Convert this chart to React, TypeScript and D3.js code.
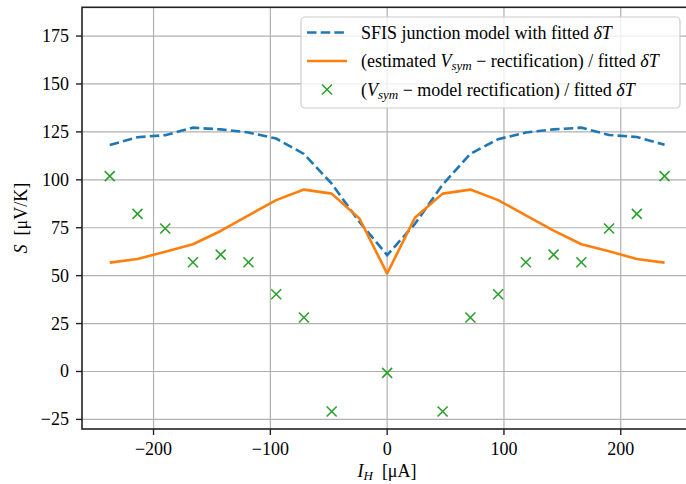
import React from 'react';
import * as d3 from 'd3';

const currents = [-237.5, -213.75, -190, -166.25, -142.5, -118.75, -95, -71.25, -47.5, -23.75, 0, 23.75, 47.5, 71.25, 95, 118.75, 142.5, 166.25, 190, 213.75, 237.5];
const modelS = [118.2, 122.2, 123.3, 127.2, 126.3, 124.7, 121.5, 113.5, 98.0, 78.0, 60.7, 77.0, 97.5, 113.6, 121.2, 124.7, 126.3, 127.2, 123.4, 122.3, 118.3];
const estimatedS = [56.8, 58.7, 62.5, 66.4, 73.3, 81.5, 89.4, 94.9, 92.8, 79.8, 51.1, 80.2, 92.8, 94.9, 89.4, 81.5, 73.5, 66.4, 62.7, 58.7, 56.8];
const measuredS: (number | null)[] = [101.9, 82.2, 74.6, 57.0, 61.0, 57.0, 40.3, 28.2, -20.9, null, -0.7, null, -20.9, 28.2, 40.3, 57.0, 61.0, 57.0, 74.6, 82.2, 101.9];
const xTicks = [-200, -100, 0, 100, 200];
const yTicks = [-25, 0, 25, 50, 75, 100, 125, 150, 175];

const FONT = '"Liberation Serif", "DejaVu Serif", serif';

export default function App() {
  const W = 686, H = 484;
  const left = 82, right = 692.3, top = 7.3, bottom = 429;
  const x = d3.scaleLinear().domain([-261.25, 261.25]).range([left, right]);
  const y = d3.scaleLinear().domain([-30, 190]).range([bottom, top]);

  const lineModel = d3.line<number>().x((_, i) => x(currents[i])).y(d => y(d));
  const lineEst = d3.line<number>().x((_, i) => x(currents[i])).y(d => y(d));

  const xMark = (cx: number, cy: number, r: number, key: string) => (
    <g key={key} stroke="#2ca02c" strokeWidth={1.6}>
      <line x1={cx - r} y1={cy - r} x2={cx + r} y2={cy + r} />
      <line x1={cx - r} y1={cy + r} x2={cx + r} y2={cy - r} />
    </g>
  );

  const legX = 301, legY = 17, legW = 379, legH = 91;
  const rows = [32.5, 61, 89.5];
  const hx1 = 307, hx2 = 347, tx = 361;

  return (
    <svg width={W} height={H} style={{ position: 'fixed', left: 0, top: 0, background: '#fff' }} fontFamily={FONT}>
      <rect x={0} y={0} width={W} height={H} fill="#fff" />
      <defs>
        <clipPath id="plotclip">
          <rect x={left} y={top} width={right - left} height={bottom - top} />
        </clipPath>
      </defs>
      {/* grid */}
      <g stroke="#b0b0b0" strokeWidth={1.2}>
        {xTicks.map(t => <line key={'gx' + t} x1={x(t)} x2={x(t)} y1={top} y2={bottom} />)}
        {yTicks.map(t => <line key={'gy' + t} x1={left} x2={right} y1={y(t)} y2={y(t)} />)}
      </g>
      <g clipPath="url(#plotclip)">
        <path d={lineModel(modelS) || ''} fill="none" stroke="#1f77b4" strokeWidth={2.6} strokeDasharray="9.5,4.2" />
        <path d={lineEst(estimatedS) || ''} fill="none" stroke="#ff7f0e" strokeWidth={2.6} strokeLinejoin="round" />
        {measuredS.map((v, i) => v == null ? null : xMark(x(currents[i]), y(v), 5, 'm' + i))}
      </g>
      {/* spines */}
      <rect x={left} y={top} width={right - left} height={bottom - top} fill="none" stroke="#222" strokeWidth={1.6} />
      {/* x ticks */}
      <g>
        {xTicks.map(t => (
          <g key={'xt' + t}>
            <line x1={x(t)} x2={x(t)} y1={bottom} y2={bottom + 6} stroke="#222" strokeWidth={1.4} />
            <text x={x(t)} y={455} textAnchor="middle" fontSize={18} fill="#000">{t < 0 ? '\u2212' + Math.abs(t) : String(t)}</text>
          </g>
        ))}
      </g>
      {/* y ticks */}
      <g>
        {yTicks.map(t => (
          <g key={'yt' + t}>
            <line x1={left - 6} x2={left} y1={y(t)} y2={y(t)} stroke="#222" strokeWidth={1.4} />
            <text x={69} y={y(t) + 6} textAnchor="end" fontSize={18} fill="#000">{t < 0 ? '\u2212' + Math.abs(t) : String(t)}</text>
          </g>
        ))}
      </g>
      {/* axis labels */}
      <text x={387} y={477} textAnchor="middle" fontSize={18} fill="#000">
        <tspan fontStyle="italic">I</tspan><tspan fontStyle="italic" fontSize={13} dy={3}>H</tspan><tspan dy={-3}>{'\u2002[\u03bcA]'}</tspan>
      </text>
      <text transform={`translate(27,${(top + bottom) / 2}) rotate(-90)`} textAnchor="middle" fontSize={18} fill="#000">
        <tspan fontStyle="italic">S</tspan><tspan>{'\u2002[\u03bcV/K]'}</tspan>
      </text>
      {/* legend */}
      <rect x={legX} y={legY} width={legW} height={legH} rx={4} fill="#fff" fillOpacity={0.8} stroke="#cccccc" strokeWidth={1.2} />
      <line x1={hx1} x2={hx2} y1={rows[0]} y2={rows[0]} stroke="#1f77b4" strokeWidth={2.6} strokeDasharray="9.5,4.2" />
      <line x1={hx1} x2={hx2} y1={rows[1]} y2={rows[1]} stroke="#ff7f0e" strokeWidth={2.6} />
      {xMark((hx1 + hx2) / 2, rows[2], 5, 'legx')}
      <text x={tx} y={rows[0] + 6} fontSize={18} fill="#000">
        SFIS junction model with fitted <tspan fontStyle="italic">{'\u03b4T'}</tspan>
      </text>
      <text x={tx} y={rows[1] + 6} fontSize={18} fill="#000">
        (estimated <tspan fontStyle="italic">V</tspan><tspan fontStyle="italic" fontSize={13} dy={3}>sym</tspan><tspan dy={-3}>{' \u2212 rectification) / fitted '}</tspan><tspan fontStyle="italic">{'\u03b4T'}</tspan>
      </text>
      <text x={tx} y={rows[2] + 6} fontSize={18} fill="#000">
        (<tspan fontStyle="italic">V</tspan><tspan fontStyle="italic" fontSize={13} dy={3}>sym</tspan><tspan dy={-3}>{' \u2212 model rectification) / fitted '}</tspan><tspan fontStyle="italic">{'\u03b4T'}</tspan>
      </text>
    </svg>
  );
}
